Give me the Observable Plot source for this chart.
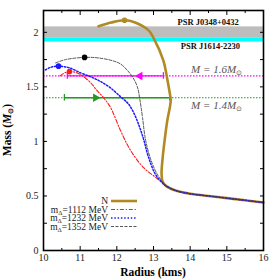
<!DOCTYPE html>
<html><head><meta charset="utf-8">
<script src="https://cdn.jsdelivr.net/npm/d3@7"></script>
<script src="https://cdn.jsdelivr.net/npm/@observablehq/plot@0.6"></script>
<style>body{margin:0;background:#fff}</style>
</head><body><div id="chart"></div>
<script>
// ---- data ----
const tailR = [13.35, 13.6, 14.0, 14.5, 15.0, 15.5, 16.0];
const tailM = [0.59, 0.55, 0.52, 0.50, 0.48, 0.46, 0.44];

const nR = [16.0, 15.5, 15.0, 14.5, 14.0, 13.6, 13.35, 13.25, 13.22, 13.25, 13.3, 13.38, 13.45, 13.47, 13.44, 13.36, 13.27, 13.0, 12.86, 12.5, 12.21, 11.85, 11.5];
const nM = [0.44, 0.46, 0.48, 0.50, 0.52, 0.55, 0.59, 0.63, 0.70, 0.85, 1.0, 1.2, 1.32, 1.38, 1.45, 1.6, 1.74, 1.95, 2.02, 2.09, 2.11, 2.09, 2.055];

const r1112R = [10.45, 10.6, 10.71, 10.85, 11.0, 11.28, 11.45, 11.64, 11.83, 12.1, 12.37, 12.73, 13.1, 13.3];
const r1112M = [1.60, 1.632, 1.64, 1.635, 1.615, 1.54, 1.47, 1.40, 1.31, 1.10, 0.92, 0.76, 0.66, 0.605];

const r1232R = [10.05, 10.2, 10.41, 10.7, 11.0, 11.3, 11.55, 11.83, 12.1, 12.3, 12.45, 12.6, 12.73, 12.86, 13.05, 13.27];
const r1232M = [1.655, 1.68, 1.69, 1.675, 1.63, 1.59, 1.55, 1.49, 1.41, 1.35, 1.27, 1.15, 1.02, 0.86, 0.70, 0.61];

const r1352R = [10.33, 10.6, 11.12, 11.5, 11.88, 12.1, 12.29, 12.43, 12.56, 12.63, 12.7, 12.78, 12.92, 13.1, 13.27];
const r1352M = [1.72, 1.75, 1.77, 1.765, 1.74, 1.71, 1.65, 1.59, 1.50, 1.38, 1.22, 1.02, 0.84, 0.70, 0.62];

const maxR = [12.21, 10.71, 10.41, 11.12];
const maxM = [2.11, 1.64, 1.69, 1.77];

const bandNames = ["PSR J0348+0432", "PSR J1614-2230"];
const bandLo = [1.945, 1.911];
const bandHi = [2.05, 1.945];
const bandLabelR = [14.49, 14.55];
const bandLabelM = [2.09, 1.87];

const refM = [1.6, 1.4];
const refLabels = ["M = 1.6M⊙", "M = 1.4M⊙"];
const refLabelR = [14.72, 14.72];
const refLabelM = [1.655, 1.33];
const segR1 = [10.65, 10.57];
const segR2 = [13.27, 13.44];
const arrowR = [12.63, 11.42];
const arrowRot = [-90, 90];

const legendLabels = ["N", "1112", "1232", "1352"];

const xMajor = [10, 11, 12, 13, 14, 15, 16];
const xMinor = [10.5, 11.5, 12.5, 13.5, 14.5, 15.5];
const yTicks = [0, 0.25, 0.5, 0.75, 1, 1.25, 1.5, 1.75, 2];
const yLabels = [0, 0.5, 1, 1.5, 2];

// ---- build ----
const pts = (R, M) => R.map((r, i) => ({r, m: M[i]}));
const withTail = (R, M) => pts(R, M).concat(pts(tailR, tailM));

const colN = "#b08a22", colRed = "#ff1a1a", colBlue = "#1a1aff", colGray = "#444", colMag = "#ff00ff", colGreen = "#229922";
const refCol = [colMag, colGreen];
const dashRed = "4,1.8,1.3,1.8", dashBlue = "1.5,1.8", dashGray = "3,1.5";

const marks = [];
// bands
marks.push(Plot.rect([{lo: bandLo[0], hi: bandHi[0]}], {y1: "lo", y2: "hi", fill: "#bdbdbd"}));
marks.push(Plot.rect([{lo: bandLo[1], hi: bandHi[1]}], {y1: "lo", y2: "hi", fill: "#00ffff"}));
bandNames.forEach((t, i) => marks.push(Plot.text([t], {x: bandLabelR[i], y: bandLabelM[i], text: d => d, fontWeight: "bold", fontSize: 8.5, fill: "#111"})));

// reference lines
refM.forEach((m, i) => {
  const c = refCol[i];
  marks.push(Plot.ruleY([m], {stroke: c, strokeWidth: 1.2, strokeDasharray: "1.5,1.5"}));
  marks.push(Plot.ruleY([{m, a: segR1[i], b: segR2[i]}], {y: "m", x1: "a", x2: "b", stroke: c, strokeWidth: 1.3}));
  marks.push(Plot.ruleX([segR1[i], segR2[i]], {x: d => d, y1: m - 0.03, y2: m + 0.03, stroke: c, strokeWidth: 1.3}));
  marks.push(Plot.dot([{r: arrowR[i], m}], {x: "r", y: "m", symbol: "triangle", r: 3.2, rotate: arrowRot[i], fill: c, stroke: "none"}));
  marks.push(Plot.text([refLabels[i]], {x: refLabelR[i], y: refLabelM[i], text: d => d, fontStyle: "italic", fontSize: 11, fill: "#555"}));
});

// curves
marks.push(Plot.line(pts(nR, nM), {x: "r", y: "m", stroke: colN, strokeWidth: 2.6, curve: "catmull-rom"}));
marks.push(Plot.line(withTail(r1112R, r1112M), {x: "r", y: "m", stroke: colRed, strokeWidth: 1.1, strokeDasharray: dashRed, curve: "catmull-rom"}));
marks.push(Plot.line(withTail(r1232R, r1232M), {x: "r", y: "m", stroke: colBlue, strokeWidth: 1.5, strokeDasharray: dashBlue, curve: "catmull-rom"}));
marks.push(Plot.line(withTail(r1352R, r1352M), {x: "r", y: "m", stroke: colGray, strokeWidth: 0.9, strokeDasharray: dashGray, curve: "catmull-rom"}));
const dotCols = [colN, colRed, colBlue, "#000"];
marks.push(Plot.dot(pts(maxR, maxM).map((d, i) => ({...d, c: dotCols[i]})), {x: "r", y: "m", r: 2.8, fill: d => d.c, stroke: "none"}));

// axes: inward ticks
marks.push(Plot.axisX(xMajor, {anchor: "bottom", tickSize: 4, dy: -4, fill: null, label: null, stroke: "#000"}));
marks.push(Plot.axisX(xMinor, {anchor: "bottom", tickSize: 2, dy: -2, fill: null, label: null, stroke: "#000"}));
marks.push(Plot.axisX(xMajor, {anchor: "top", tickSize: 4, dy: 4, fill: null, label: null, stroke: "#000"}));
marks.push(Plot.axisX(xMinor, {anchor: "top", tickSize: 2, dy: 2, fill: null, label: null, stroke: "#000"}));
marks.push(Plot.axisY(yTicks, {anchor: "left", tickSize: 4, dx: 4, fill: null, label: null, stroke: "#000"}));
marks.push(Plot.axisY(yTicks, {anchor: "right", tickSize: 4, dx: -4, fill: null, label: null, stroke: "#000"}));
marks.push(Plot.axisX(xMajor, {anchor: "bottom", tickSize: 0, tickPadding: 3, label: null, fill: "#222", fontSize: 10, tickFormat: d3.format("~g")}));
marks.push(Plot.axisY(yLabels, {anchor: "left", tickSize: 0, tickPadding: 5, label: null, fill: "#222", fontSize: 10, tickFormat: d3.format("~g")}));
marks.push(Plot.frame({stroke: "#000", strokeWidth: 1.6}));

const svg = Plot.plot({
  width: 280, height: 280,
  marginLeft: 43, marginRight: 17, marginTop: 10, marginBottom: 30,
  x: {domain: [10, 16]},
  y: {domain: [0, 2.2]},
  style: {fontFamily: "'Liberation Serif', serif", fontSize: "10px", background: "#fff", color: "#000"},
  marks
});
document.getElementById("chart").append(svg);

// subscript ⊙ in reference labels
d3.select(svg).selectAll("text").each(function() {
  const t = this.textContent;
  if (t.includes("⊙")) {
    const sel = d3.select(this);
    sel.text("");
    sel.append("tspan").text(t.replace("⊙", ""));
    sel.append("tspan").attr("font-size", "7px").attr("font-style", "normal").attr("dy", "2").text("⊙");
  }
});

// legend
const g = d3.select(svg).append("g").attr("font-family", "'Liberation Serif', serif").attr("font-size", "9.5px");
const legY = [201, 209.5, 218, 226.5];
const legStyle = [
  {stroke: colN, w: 2.6, dash: null},
  {stroke: colRed, w: 1.1, dash: dashRed},
  {stroke: colBlue, w: 1.5, dash: dashBlue},
  {stroke: colGray, w: 0.9, dash: dashGray}
];
legendLabels.forEach((lab, i) => {
  const y = legY[i];
  g.append("line").attr("x1", 111).attr("x2", 137).attr("y1", y).attr("y2", y)
    .attr("stroke", legStyle[i].stroke).attr("stroke-width", legStyle[i].w)
    .attr("stroke-dasharray", legStyle[i].dash);
  const t = g.append("text").attr("x", 108).attr("y", y + 3).attr("text-anchor", "end").attr("fill", "#222");
  if (i === 0) t.text(lab);
  else {
    t.append("tspan").text("m");
    t.append("tspan").attr("font-size", "6.5px").attr("dy", "2").text("Δ");
    t.append("tspan").attr("dy", "-2").text("=" + lab + " MeV");
  }
});

// axis titles
d3.select(svg).append("text").attr("x", 153).attr("y", 276).attr("text-anchor", "middle")
  .attr("font-family", "'Liberation Serif', serif").attr("font-weight", "bold").attr("font-size", "11.5px").text("Radius (kms)");
const yt = d3.select(svg).append("text").attr("transform", "translate(11,130) rotate(-90)").attr("text-anchor", "middle")
  .attr("font-family", "'Liberation Serif', serif").attr("font-weight", "bold").attr("font-size", "11.5px");
yt.append("tspan").text("Mass (");
yt.append("tspan").attr("font-style", "italic").text("M");
yt.append("tspan").attr("font-size", "7px").attr("dy", "2").text("⊙");
yt.append("tspan").attr("dy", "-2").text(")");
</script>
</body></html>
